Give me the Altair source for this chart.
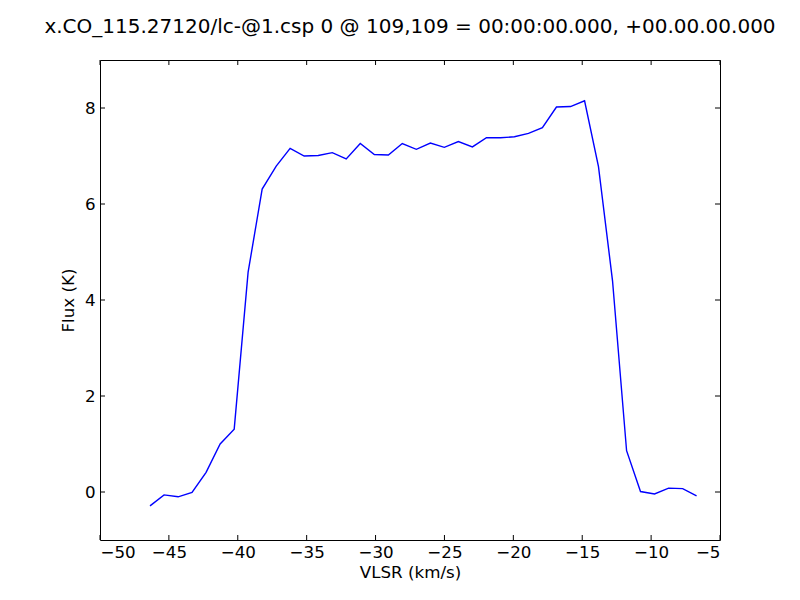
import altair as alt
import pandas as pd

vlsr = [-46.37, -45.35, -44.33, -43.32, -42.30, -41.28, -40.26, -39.25, -38.23, -37.21,
        -36.20, -35.18, -34.16, -33.14, -32.13, -31.11, -30.09, -29.07, -28.06, -27.04,
        -26.02, -25.01, -23.99, -22.97, -21.95, -20.94, -19.92, -18.90, -17.89, -16.87,
        -15.85, -14.83, -13.82, -12.80, -11.78, -10.77, -9.75, -8.73, -7.71, -6.70]
flux = [-0.29, -0.06, -0.10, -0.01, 0.41, 1.00, 1.31, 4.58, 6.31, 6.79,
        7.16, 7.00, 7.01, 7.07, 6.94, 7.26, 7.03, 7.02, 7.26, 7.14,
        7.27, 7.18, 7.30, 7.19, 7.38, 7.38, 7.40, 7.47, 7.59, 8.02,
        8.03, 8.15, 6.78, 4.40, 0.86, 0.01, -0.04, 0.08, 0.07, -0.08]

x_ticks = [-50, -45, -40, -35, -30, -25, -20, -15, -10, -5]
y_ticks = [0, 2, 4, 6, 8]

W, H = 620, 480
TL = 5
FONT = "DejaVu Sans"

df = pd.DataFrame({"v": vlsr, "f": flux})
xt = pd.DataFrame({"t": x_ticks})
yt = pd.DataFrame({"t": y_ticks})

xs = alt.Scale(domain=[-50, -5], nice=False, zero=False)
ys = alt.Scale(domain=[-1, 9], nice=False, zero=False)

line = alt.Chart(df).mark_line(color="#0000ff", strokeWidth=1.4).encode(
    x=alt.X("v:Q", scale=xs, title="VLSR (km/s)",
            axis=alt.Axis(values=x_ticks, format="d", grid=False, ticks=False, domain=False,
                          labelFont=FONT, labelFontSize=16.7, labelColor="black",
                          labelPadding=4, titleFont=FONT, titleFontSize=16.7,
                          titleFontWeight="normal", titleColor="black",
                          titleBaseline="alphabetic", titleY=37, titleX=W / 2)),
    y=alt.Y("f:Q", scale=ys, title="Flux (K)",
            axis=alt.Axis(values=y_ticks, format="d", grid=False, ticks=False, domain=False,
                          labelFont=FONT, labelFontSize=16.7, labelColor="black",
                          labelPadding=5, titleFont=FONT, titleFontSize=16.7,
                          titleFontWeight="normal", titleColor="black",
                          titleBaseline="alphabetic", titleAngle=270,
                          titleX=-27, titleY=H / 2)),
)

tick_style = dict(color="black", strokeWidth=1)
bottom = alt.Chart(xt).mark_rule(**tick_style).encode(
    x=alt.X("t:Q", scale=xs), y=alt.value(H), y2=alt.value(H - TL))
top = alt.Chart(xt).mark_rule(**tick_style).encode(
    x=alt.X("t:Q", scale=xs), y=alt.value(0), y2=alt.value(TL))
left = alt.Chart(yt).mark_rule(**tick_style).encode(
    y=alt.Y("t:Q", scale=ys), x=alt.value(0), x2=alt.value(TL))
right = alt.Chart(yt).mark_rule(**tick_style).encode(
    y=alt.Y("t:Q", scale=ys), x=alt.value(W), x2=alt.value(W - TL))

chart = alt.layer(line, bottom, top, left, right).properties(
    width=W, height=H,
    title=alt.TitleParams(
        "x.CO_115.27120/lc-@1.csp 0 @ 109,109 = 00:00:00.000, +00.00.00.000",
        font=FONT, fontSize=20, fontWeight="normal", color="black",
        anchor="middle", baseline="alphabetic", offset=7),
    autosize=alt.AutoSizeParams(type="none"),
    padding={"left": 92, "top": 52, "right": 72, "bottom": 52},
).configure(background="white").configure_view(stroke="black", strokeWidth=1)

chart.save("out.html", embed_options={"renderer": "svg", "actions": False})
